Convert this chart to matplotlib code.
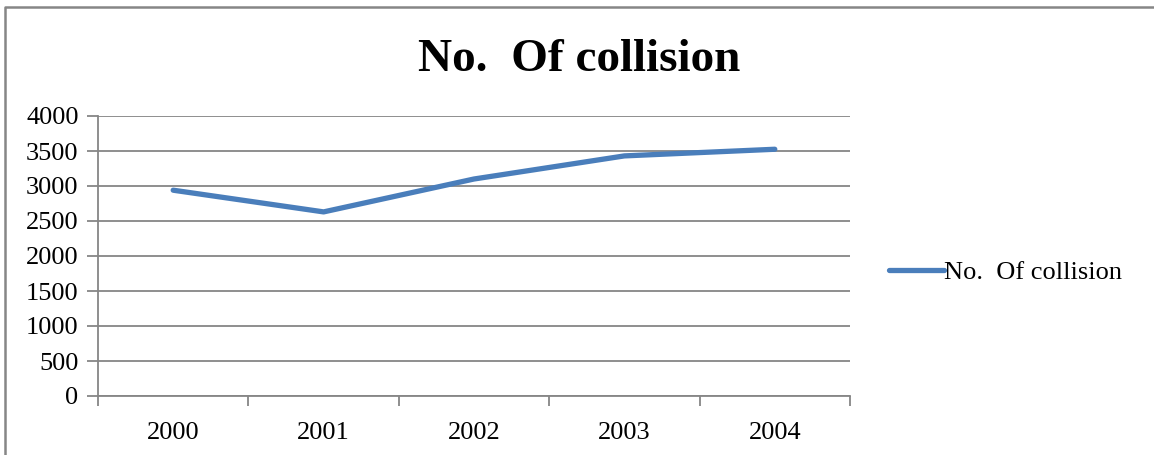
import matplotlib
matplotlib.use('Agg')
import matplotlib.pyplot as plt
from matplotlib.lines import Line2D

years = ['2000', '2001', '2002', '2003', '2004']
collisions = [2940, 2630, 3100, 3430, 3525]
yticks = [0, 500, 1000, 1500, 2000, 2500, 3000, 3500, 4000]

grey = '#868686'
blue = '#4A7EBB'
plt.rcParams['font.family'] = ['Liberation Serif', 'DejaVu Serif']
fs = 19

W, H = 1154, 455
fig = plt.figure(figsize=(W / 100, H / 100), dpi=100)
ax = fig.add_axes([98 / W, 1 - 396 / H, (850 - 98) / W, (396 - 116) / H])

x = list(range(len(years)))
ax.plot(x, collisions, color=blue, lw=3.8, solid_capstyle='round',
        solid_joinstyle='round', label='No.  Of collision', zorder=3)

ax.set_xlim(-0.5, len(years) - 0.5)
ax.set_ylim(0, 4000)
ax.set_yticks(yticks)
ax.set_yticklabels([str(v) for v in yticks])
ax.yaxis.grid(True, color=grey, lw=1.3)
ax.set_axisbelow(True)

# category labels in the middle, tick marks on the boundaries
ax.set_xticks(x)
ax.set_xticklabels(years)
ax.set_xticks([i - 0.5 for i in range(len(years) + 1)], minor=True)
ax.tick_params(axis='x', which='major', length=0, pad=19, labelsize=fs)
ax.tick_params(axis='x', which='minor', length=7, width=1.3, color=grey, direction='out')
ax.tick_params(axis='y', length=8, width=1.3, color=grey, direction='out', pad=6, labelsize=fs)

for sp in ['top', 'right']:
    ax.spines[sp].set_visible(False)
for sp in ['left', 'bottom']:
    ax.spines[sp].set_color(grey)
    ax.spines[sp].set_linewidth(1.3)

fig.text(579 / W, 1 - 60 / H, 'No.  Of collision', ha='center', va='center',
         fontsize=34, fontweight='bold')

ax.legend(loc='center left', bbox_to_anchor=(889 / W, 1 - 272 / H),
          bbox_transform=fig.transFigure, frameon=False, fontsize=fs,
          handlelength=2.1, handletextpad=0.0, borderpad=0, borderaxespad=0)

# chart frame (left and top edges)
fig.add_artist(Line2D([4.5 / W, 4.5 / W, 1], [0, 1 - 7 / H, 1 - 7 / H],
                      transform=fig.transFigure, color=grey, lw=1.8))

fig.savefig('out.png', dpi=100, facecolor='white')
